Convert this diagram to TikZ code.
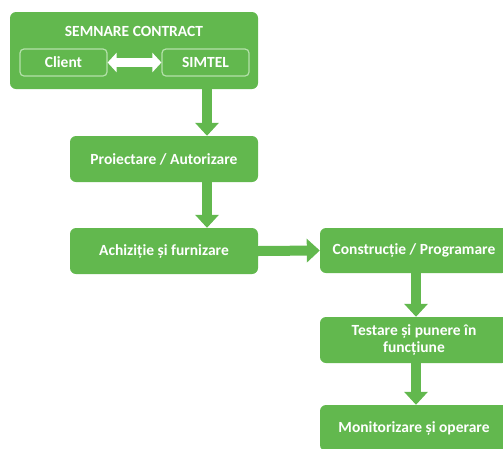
\documentclass[tikz,border=0pt]{standalone}
\usepackage{fontspec}
\setmainfont{Carlito}
\usetikzlibrary{arrows.meta}
\definecolor{gr}{RGB}{98,184,78}
\definecolor{grline}{RGB}{180,225,170}
\tikzset{
  txt/.style={text=white, font=\bfseries\fontsize{15.5}{17.5}\selectfont},
  box/.style={txt, fill=gr, draw=none, rounded corners=6pt, align=center, inner sep=0pt},
  inbox/.style={txt, fill=gr, draw=grline, line width=1.2pt, rounded corners=4pt, inner sep=0pt},
  garrow/.style={draw=gr, line width=10pt, -{Triangle[width=23pt,length=13pt]}},
  warrow/.style={draw=white, line width=9pt, {Triangle[width=19pt,length=9pt]}-{Triangle[width=19pt,length=9pt]}}
}
\begin{document}
\begin{tikzpicture}[x=1pt,y=-1pt]
\useasboundingbox (0,0) rectangle (503,448);
\clip (0,0) rectangle (503,448);
\node[box, minimum width=248pt, minimum height=77pt] (top) at (134,50.5) {};
\node[txt, inner sep=0pt] (title) at (134,31) {SEMNARE CONTRACT};
\node[inbox, minimum width=87pt, minimum height=27pt] (client) at (63.5,62.5) {Client};
\node[inbox, minimum width=87pt, minimum height=27pt] (simtel) at (205.5,62.5) {SIMTEL};
\node[box, minimum width=188pt, minimum height=46pt] (proj) at (164,159) {Proiectare / Autorizare};
\node[box, minimum width=188pt, minimum height=46pt] (ach) at (164,251) {Achiziție și furnizare};
\node[box, minimum width=188pt, minimum height=45pt] (cons) at (414,250.5) {Construcție / Programare};
\node[box, minimum width=188pt, minimum height=46pt] (test) at (414,340) {Testare și punere în\\funcțiune};
\node[box, minimum width=188pt, minimum height=46pt] (mon) at (414,428) {Monitorizare și operare};
\coordinate (ax) at (207,0);
\coordinate (bx) at (416,0);
\draw[warrow] (client.east) -- (simtel.west);
\draw[garrow] (top.south -| ax) -- (proj.north -| ax);
\draw[garrow] (proj.south -| ax) -- (ach.north -| ax);
\draw[garrow] (ach.east) -- (cons.west);
\draw[garrow] (cons.south -| bx) -- (test.north -| bx);
\draw[garrow] (test.south -| bx) -- (mon.north -| bx);
\end{tikzpicture}
\end{document}
